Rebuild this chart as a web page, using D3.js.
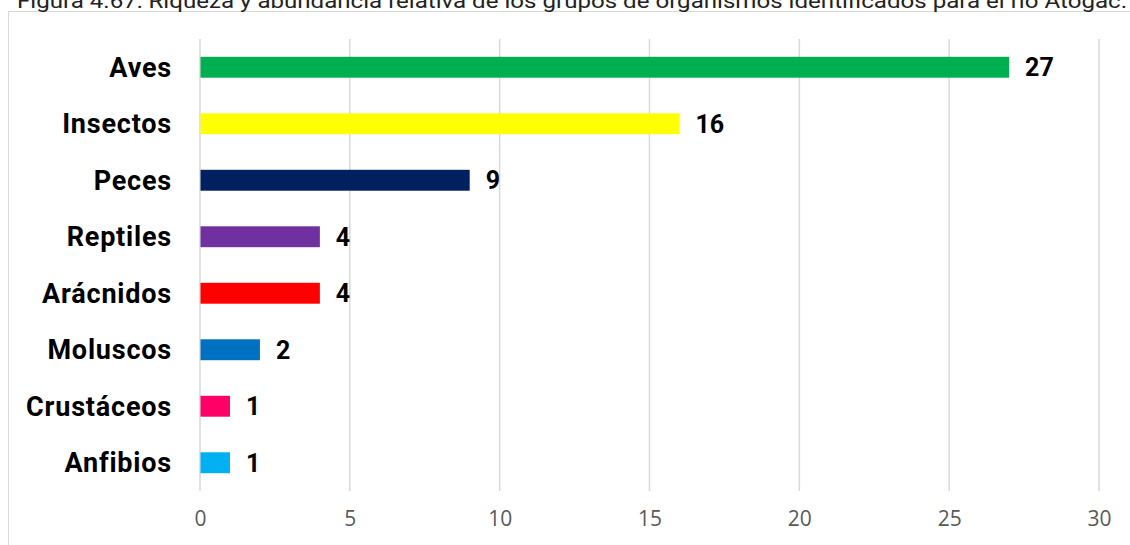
<!DOCTYPE html>
<html>
<head>
<meta charset="utf-8">
<script src="https://cdn.jsdelivr.net/npm/d3@7"></script>
<style>
  html, body { margin: 0; padding: 0; background: #fff; overflow: hidden; }
  svg { display: block; }
</style>
</head>
<body>
<svg id="chart" width="1130" height="545"></svg>
<script>
// Grupos de organismos y número de especies registradas
const categories = ["Aves", "Insectos", "Peces", "Reptiles", "Arácnidos", "Moluscos", "Crustáceos", "Anfibios"];
const values = [27, 16, 9, 4, 4, 2, 1, 1];
const colors = ["#00B050", "#FFFF00", "#002060", "#7030A0", "#FF0000", "#0070C0", "#FF0066", "#00B0F0"];
const xTicks = [0, 5, 10, 15, 20, 25, 30];
const title = "Figura 4.67: Riqueza y abundancia relativa de los grupos de organismos identificados para el río Atogac.";

const svg = d3.select("#chart");

// Marco del área del gráfico
svg.append("rect")
  .attr("x", 8.5).attr("y", 11.5)
  .attr("width", 1140).attr("height", 560)
  .attr("fill", "none")
  .attr("stroke", "#d9d9d9")
  .attr("stroke-width", 1);

// Título (parcialmente fuera del borde superior)
svg.append("text")
  .attr("x", 17).attr("y", 8)
  .attr("font-family", "Roboto, 'Noto Sans', sans-serif")
  .attr("font-size", 21)
  .attr("fill", "#222")
  .attr("textLength", 1110)
  .attr("lengthAdjust", "spacingAndGlyphs")
  .text(title);

const x = d3.scaleLinear().domain([0, 30]).range([200, 1099]);
const y = d3.scaleBand().domain(categories).range([39, 491]).paddingInner(0.63).paddingOuter(0.315);

// Líneas de cuadrícula verticales
svg.append("g")
  .selectAll("line")
  .data(xTicks)
  .join("line")
  .attr("x1", d => x(d)).attr("x2", d => x(d))
  .attr("y1", 39).attr("y2", 491)
  .attr("stroke", "#d9d9d9")
  .attr("stroke-width", 1.5);

// Eje X
const xAxis = svg.append("g")
  .attr("transform", "translate(0,491)")
  .call(d3.axisBottom(x).tickValues(xTicks).tickSize(0).tickPadding(20));
xAxis.select(".domain").remove();
xAxis.selectAll("text")
  .attr("font-family", "'Open Sans', 'Liberation Sans', sans-serif")
  .attr("font-size", 21)
  .attr("fill", "#595959");

// Barras
svg.append("g")
  .selectAll("rect")
  .data(categories)
  .join("rect")
  .attr("x", x(0) + 0.5)
  .attr("y", d => y(d))
  .attr("width", (d, i) => x(values[i]) - x(0) - 0.5)
  .attr("height", y.bandwidth())
  .attr("fill", (d, i) => colors[i]);

// Etiquetas de categoría
const yAxis = svg.append("g")
  .attr("transform", "translate(172,0)")
  .call(d3.axisLeft(y).tickSize(0).tickPadding(0));
yAxis.select(".domain").remove();
yAxis.selectAll("text")
  .attr("font-family", "Roboto, 'Noto Sans', sans-serif")
  .attr("font-weight", 700)
  .attr("font-size", 27)
  .attr("letter-spacing", 0.8)
  .attr("fill", "#000")
  .attr("dy", "0.36em");

// Etiquetas de valor
svg.append("g")
  .selectAll("text")
  .data(categories)
  .join("text")
  .attr("x", (d, i) => x(values[i]) + 16)
  .attr("y", d => y(d) + y.bandwidth() / 2)
  .attr("dy", "0.36em")
  .attr("font-family", "Roboto, 'Noto Sans', sans-serif")
  .attr("font-weight", 700)
  .attr("font-size", 25)
  .attr("fill", "#000")
  .text((d, i) => values[i]);
</script>
</body>
</html>
